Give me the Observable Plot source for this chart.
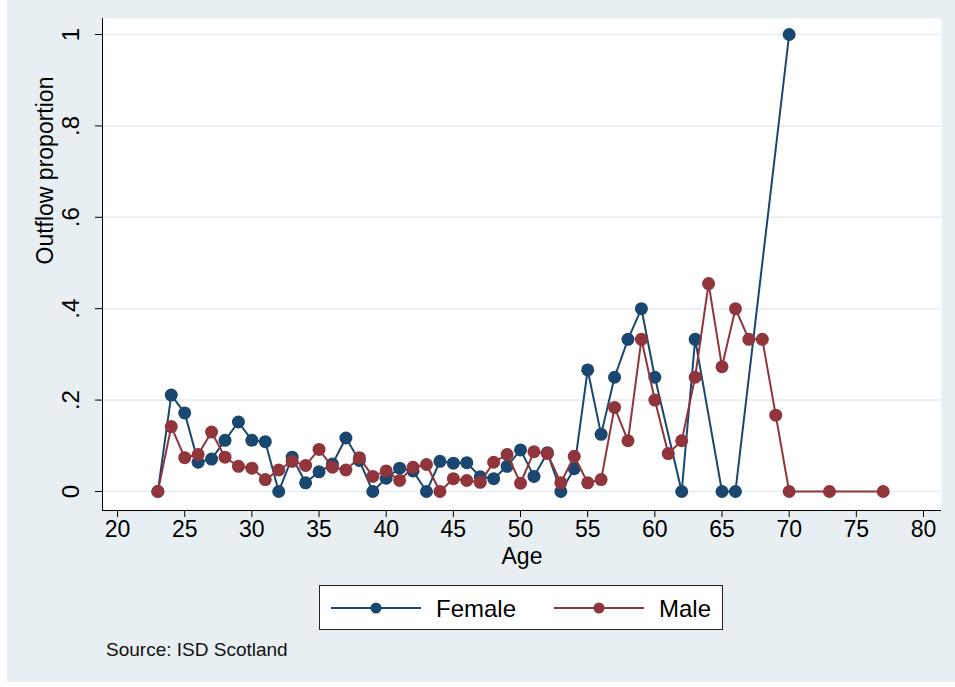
<!DOCTYPE html>
<html>
<head>
<meta charset="utf-8">
<script src="https://cdn.jsdelivr.net/npm/d3@7"></script>
<script src="https://cdn.jsdelivr.net/npm/@observablehq/plot@0.6"></script>
<style>
  body { margin: 0; background: #ffffff; font-family: "Liberation Sans", Arial, sans-serif; }
  #wrap { position: relative; margin-left: 7px; width: 948px; height: 682px; background: #E8EFF2; }
  #chart { position: absolute; left: 0; top: 0; }
  #legend { position: absolute; left: 312px; top: 585px; width: 402px; height: 43px; background: #fff; border: 1px solid #222; }
  #note { position: absolute; left: 99px; top: 640px; font-size: 19px; line-height: 19px; color: #111; white-space: nowrap; }
</style>
</head>
<body>
<div id="wrap">
  <div id="chart"></div>
  <div id="legend"></div>
  <div id="note"></div>
</div>
<script>
// ---- data ----
const femaleAge = [23,24,25,26,27,28,29,30,31,32,33,34,35,36,37,38,39,40,41,42,43,44,45,46,47,48,49,50,51,52,53,54,55,56,57,58,59,60,62,63,65,66,70];
const femaleVal = [0,0.211,0.172,0.064,0.071,0.112,0.152,0.112,0.109,0,0.075,0.019,0.043,0.060,0.117,0.068,0,0.029,0.051,0.045,0,0.066,0.062,0.063,0.032,0.028,0.055,0.091,0.033,0.085,0,0.050,0.266,0.125,0.250,0.333,0.400,0.250,0,0.333,0,0,1];
const maleAge = [23,24,25,26,27,28,29,30,31,32,33,34,35,36,37,38,39,40,41,42,43,44,45,46,47,48,49,50,51,52,53,54,55,56,57,58,59,60,61,62,63,64,65,66,67,68,69,70,73,77];
const maleVal = [0,0.142,0.074,0.081,0.130,0.075,0.055,0.051,0.026,0.047,0.066,0.057,0.092,0.053,0.047,0.074,0.033,0.045,0.024,0.053,0.059,0,0.028,0.024,0.020,0.064,0.081,0.018,0.087,0.083,0.019,0.077,0.019,0.026,0.184,0.111,0.333,0.200,0.083,0.111,0.250,0.455,0.273,0.400,0.333,0.333,0.167,0,0,0];
const seriesNames = ["Female", "Male"];
const xTicks = [20,25,30,35,40,45,50,55,60,65,70,75,80];
const yTicks = [0,0.2,0.4,0.6,0.8,1];
const yTickLabels = ["0",".2",".4",".6",".8","1"];
const xTitle = "Age";
const yTitle = "Outflow proportion";
const noteText = "Source: ISD Scotland";

// ---- styling ----
const colors = ["#1A476F", "#90353B"];
const gridColor = "#E6EEF1";
const xDomain = [18.88, 81.34];
const yDomain = [-0.0416, 1.035];
const font = "Liberation Sans, Arial, sans-serif";

const female = femaleAge.map((a, i) => ({age: a, v: femaleVal[i]}));
const male = maleAge.map((a, i) => ({age: a, v: maleVal[i]}));

const chart = Plot.plot({
  width: 948, height: 575,
  marginLeft: 95, marginRight: 14, marginTop: 18, marginBottom: 65,
  style: {background: "transparent", fontFamily: font, color: "black", overflow: "visible"},
  x: {domain: xDomain},
  y: {domain: yDomain},
  marks: [
    Plot.frame({fill: "white", stroke: null}),
    Plot.gridY(yTicks, {stroke: gridColor, strokeOpacity: 1, strokeWidth: 1.6}),
    Plot.ruleX([xDomain[0]], {stroke: "black", strokeWidth: 1}),
    Plot.ruleY([yDomain[0]], {stroke: "black", strokeWidth: 1}),
    Plot.axisX({ticks: xTicks, tickSize: 7, tickPadding: 3, fontSize: 23, label: null}),
    Plot.axisY({ticks: yTicks, tickSize: 7, tickFormat: () => "", label: null}),
    Plot.text(yTicks, {y: d => d, frameAnchor: "left", text: (d, i) => yTickLabels[i], rotate: -90, dx: -31, fontSize: 24, textAnchor: "middle", lineAnchor: "middle", fill: "black"}),
    Plot.text([xTitle], {frameAnchor: "bottom", text: d => d, dy: 37, lineAnchor: "top", fontSize: 23, fill: "black"}),
    Plot.text([yTitle], {frameAnchor: "left", text: d => d, rotate: -90, dx: -57, fontSize: 23, lineAnchor: "middle", fill: "black"}),
    Plot.line(female, {x: "age", y: "v", stroke: colors[0], strokeWidth: 2}),
    Plot.dot(female, {x: "age", y: "v", r: 6.5, fill: colors[0], stroke: null}),
    Plot.line(male, {x: "age", y: "v", stroke: colors[1], strokeWidth: 2}),
    Plot.dot(male, {x: "age", y: "v", r: 6.5, fill: colors[1], stroke: null})
  ]
});
document.getElementById("chart").appendChild(chart);

// ---- legend ----
const lg = d3.select("#legend").append("svg").attr("width", 402).attr("height", 43);
const itemX = [11, 234];
seriesNames.forEach((name, i) => {
  const g = lg.append("g").attr("transform", `translate(${itemX[i]},0)`);
  g.append("line").attr("x1", 0).attr("x2", 90).attr("y1", 22).attr("y2", 22).attr("stroke", colors[i]).attr("stroke-width", 2);
  g.append("circle").attr("cx", 45).attr("cy", 22).attr("r", 5.5).attr("fill", colors[i]);
  g.append("text").attr("x", 105).attr("y", 30.5).attr("font-size", 24).attr("font-family", font).attr("fill", "black").text(name);
});
document.getElementById("note").textContent = noteText;
</script>
</body>
</html>
